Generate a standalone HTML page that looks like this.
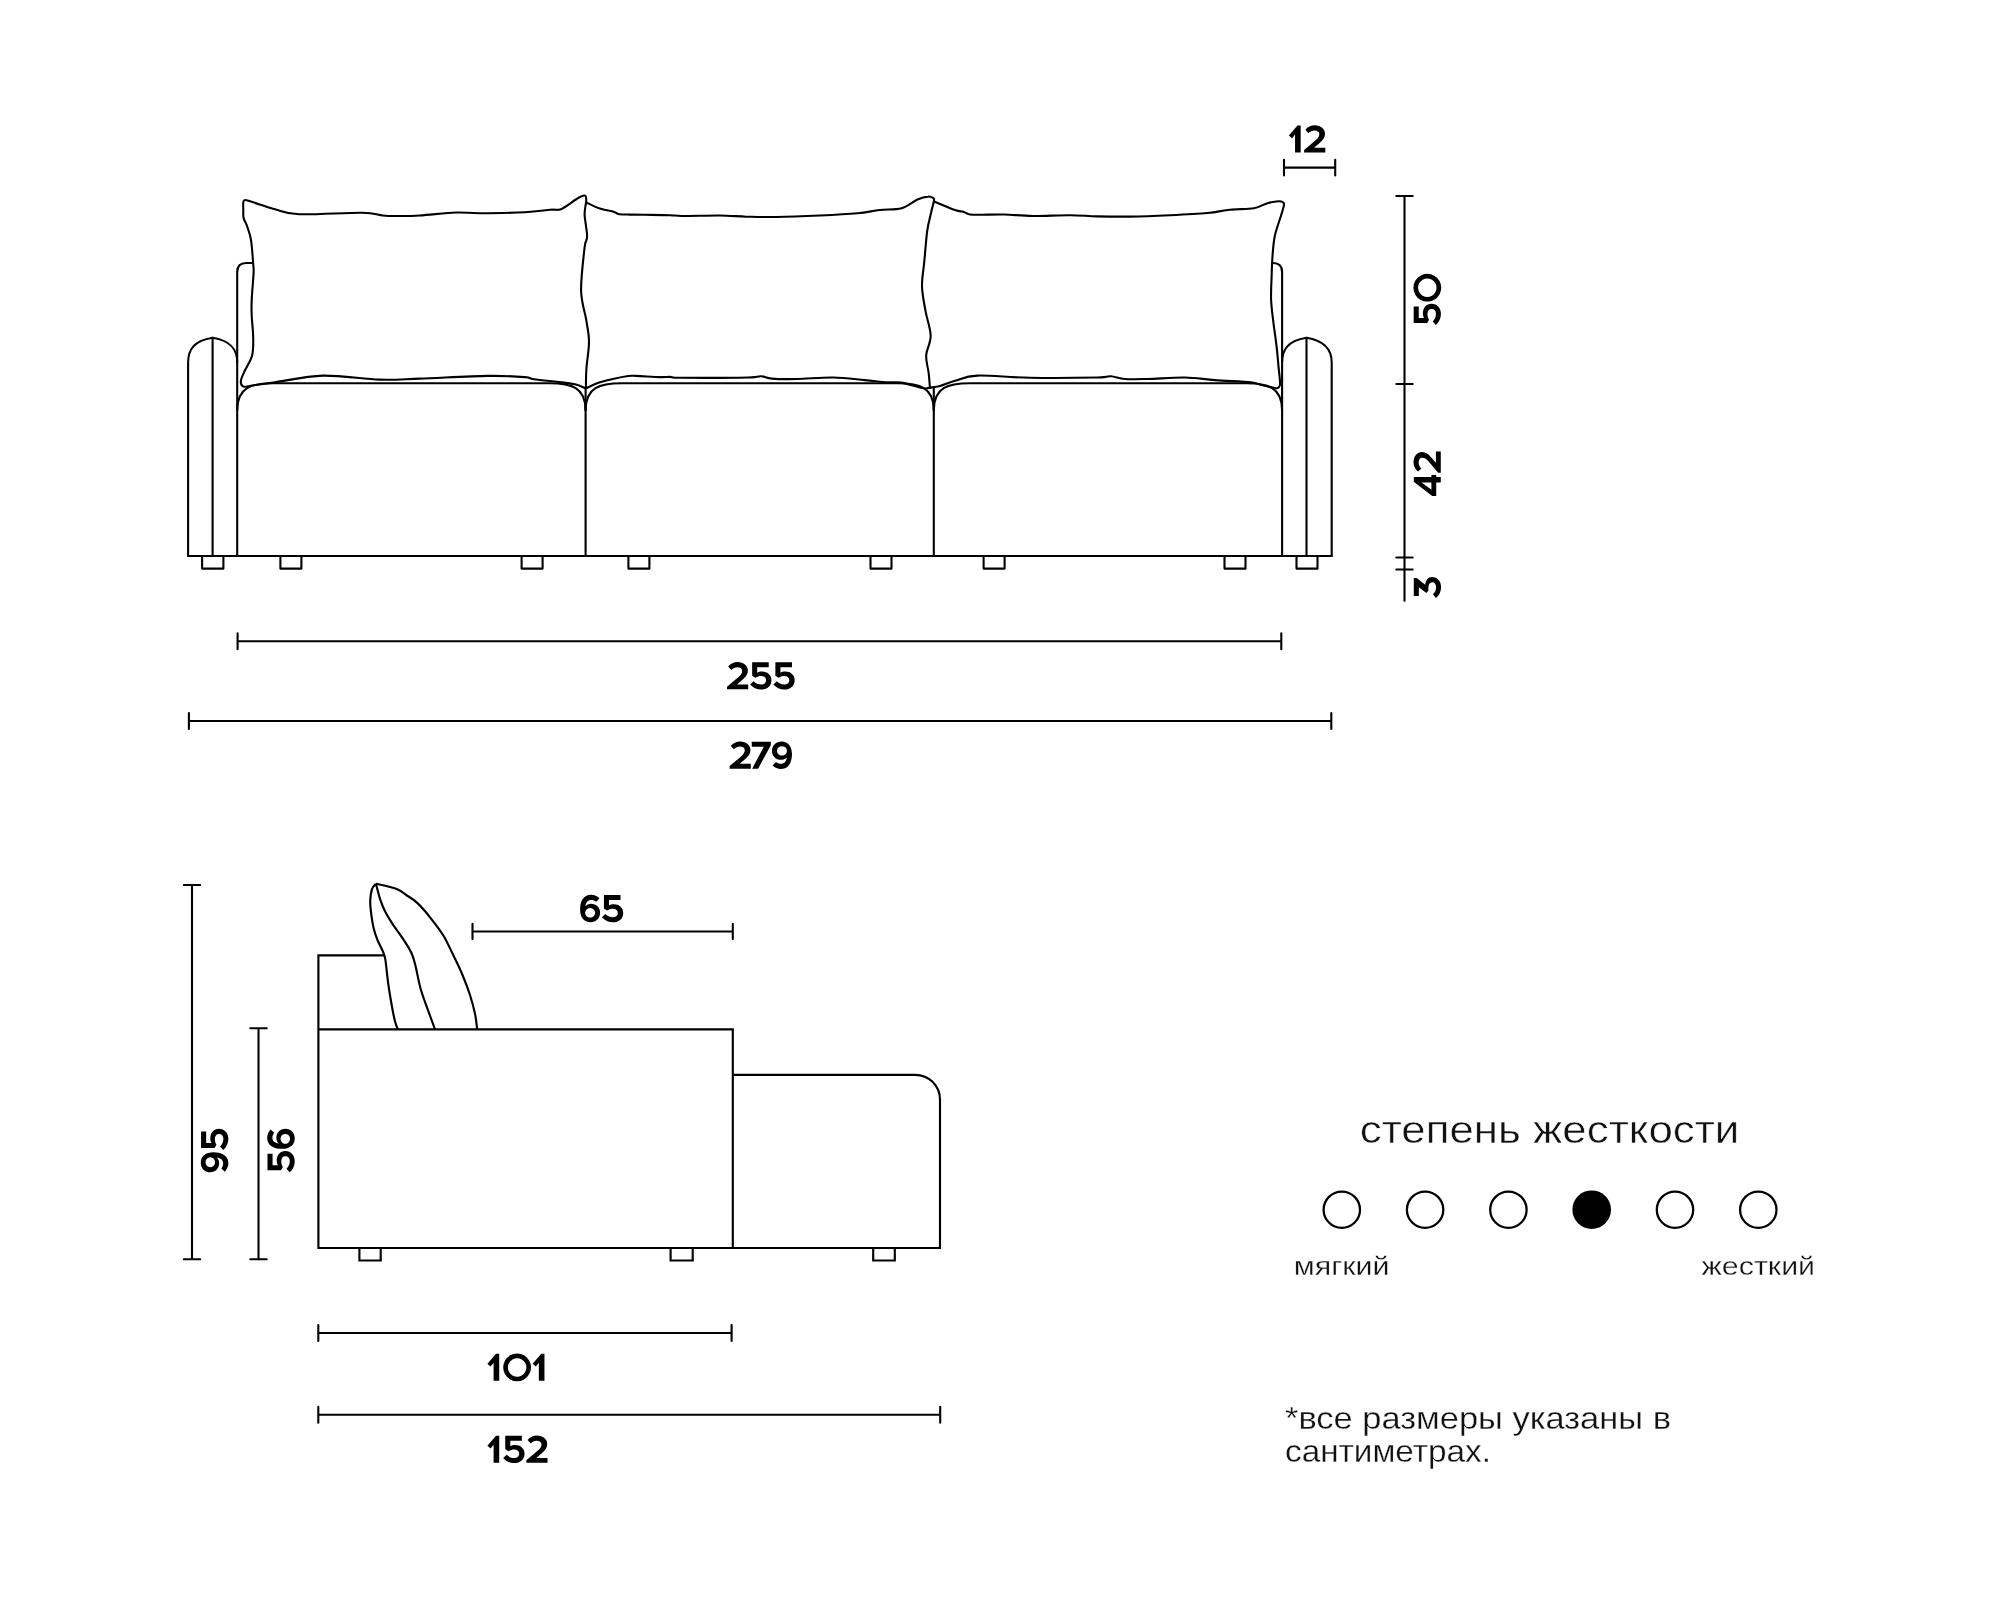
<!DOCTYPE html>
<html lang="ru"><head><meta charset="utf-8"><title>Sofa dimensions</title>
<style>
html,body{margin:0;padding:0;background:#fff;}
body{width:2000px;height:1601px;overflow:hidden;}
svg{display:block;}
text{font-family:"Liberation Sans",sans-serif;fill:#111;stroke:#fff;stroke-width:0.3px;}
</style></head><body>
<svg width="2000" height="1601" viewBox="0 0 2000 1601">
<rect width="2000" height="1601" fill="#fff"/>
<defs><path id="g1" d="M31.3,1 L42.9,1 L42.9,99 L22.5,99 L22.5,34 L11.5,47.3 L0,37.4 Z"/><path id="g2" d="M4.4,16.5 C13,6 25,0 38.5,0 C60,0 75.8,13 75.8,31 C75.8,45 68,54 55,65.4 L36.3,81.3 L76.9,81.3 L76.9,99 L0,99 L0,89.6 L41.8,54.4 C51,46 55,40 55,31.5 C55,24 48,18.7 37.5,18.7 C29,18.7 22,22 15.9,28.6 Z"/><path id="g5" d="M7.4,1 L67.6,1 L67.6,19.5 L25.7,19.5 L25.7,39 C30,36 36,34.5 43,34.5 C63,34.5 77.5,47 77.5,66 C77.5,86 62,100 40.5,100 C24,100 10,93 0,81.6 L12.5,70 C21,78 30,82 40,82 C51,82 58,76 58,66.5 C58,57 51,51 40,51 C32,51 26,53 19,57 L7.4,50 Z"/><path id="g0" d="M50.5,0 A50.5,50.5 0 1 1 50.4,0 Z M50.5,17 A33.5,33.5 0 1 0 50.6,17 Z"/><path id="g4" d="M51.5,1 L69.2,1 L69.2,65 L76,65 L76,82.5 L69.2,82.5 L69.2,99 L49.3,99 L49.3,82.5 L0,82.5 L0,68 Z M49.3,29.5 L49.3,65 L22.6,65 Z"/><path id="g3" d="M7.4,1 L72.7,1 L72.7,11.5 L48.5,42.5 C64,43.5 76.6,53 76.6,68 C76.6,87 61,100 39.8,100 C23,100 9,93 0,81 L13.9,70.5 C21,78 29,82 39.5,82 C50,82 57.5,76.5 57.5,68 C57.5,59 49,54.5 37,54 L27,54 L18.2,46.5 L39.8,19.5 L7.4,19.5 Z"/><path id="g6" d="M70.4,12.9 C62,5 52,0 39.8,0 C15,0 0,20 0,54 C0,82 14,100 37.6,100 C58,100 72.6,85.5 72.6,65.6 C72.6,47 58.5,33.3 40,33.3 C31,33.3 24,36.5 19,42 C21,28 28,18.8 40,18.8 C47,18.8 53,21 58.6,25.3 Z M36.3,48.4 A18,17.2 0 1 0 36.4,48.4 Z"/><path id="g7" d="M0,1 L69.2,1 L69.2,14 L23,99 L1.4,99 L43.8,19.8 L0,19.8 Z"/></defs>
<g fill="none" stroke="#000" stroke-width="2.1" stroke-linejoin="round" stroke-linecap="round"><path d="M188.1,556.0 L188.1,362.5 C188.1,349.5 194.1,340.8 212.6,337.8 C231.1,340.8 237.2,349.5 237.2,362.5 L237.2,556.0"/><path d="M212.6,337.8 L212.6,556.0"/><path d="M1282.1,556.0 L1282.1,362.5 C1282.1,349.5 1288.0,340.8 1306.5,337.8 C1325.0,340.8 1331.7,349.5 1331.7,362.5 L1331.7,556.0"/><path d="M1306.5,337.8 L1306.5,556.0"/><path d="M188.2,556 L1331.7,556"/><path d="M237.2,362 L237.2,272 Q237.2,263 246.2,263 L253,263"/><path d="M1282.1,362 L1282.1,272 Q1282.1,263 1273.1,263 L1272.6,263"/><path d="M237.2,410.2 C237.2,387.2 251.6,383.2 273.2,383.2 L549.6,383.2 C571.2,383.2 585.6,387.2 585.6,410.2"/><path d="M585.6,410.2 C585.6,387.2 600.0,383.2 621.6,383.2 L897.8,383.2 C919.4,383.2 933.8,387.2 933.8,410.2"/><path d="M933.8,410.2 C933.8,387.2 948.2,383.2 969.8,383.2 L1246.1,383.2 C1267.7,383.2 1282.1,387.2 1282.1,410.2"/><path d="M585.6,388.3 L585.6,556 M933.8,387.6 L933.8,556"/><path d="M585.9,388.3 C586.0,385.1 585.9,376.5 586.4,368.8 C586.9,361.1 589.0,349.9 589.0,341.9 C589.0,333.9 587.7,329.4 586.4,320.9 C585.1,312.4 581.4,303.1 581.1,290.9 C580.8,278.6 583.6,256.5 584.6,247.4 C585.6,238.3 587.1,241.7 587.1,236.2 C587.1,230.7 584.8,220.4 584.6,214.5 C584.5,208.6 586.1,204.1 586.2,201.0 C586.3,197.9 586.3,196.6 585.4,195.8 C584.5,195.1 582.6,195.9 581.0,196.5 C579.4,197.1 579.2,197.4 575.9,199.5 C572.5,201.6 565.1,207.5 560.9,209.2 C556.6,210.9 556.4,209.2 550.4,209.7 C544.4,210.2 536.7,211.6 525.0,212.2 C513.3,212.8 491.5,213.2 480.0,213.3 C468.5,213.4 466.0,212.1 456.0,212.5 C446.0,212.9 429.7,214.9 420.0,215.5 C410.3,216.1 404.0,216.0 397.8,216.0 C391.6,216.0 388.8,216.1 382.8,215.5 C376.8,214.9 375.8,212.9 361.8,212.7 C347.8,212.5 313.5,214.8 299.0,214.2 C284.5,213.6 282.5,211.1 275.0,209.2 C267.5,207.3 258.6,204.0 254.0,202.6 C249.4,201.2 249.2,200.9 247.6,200.5 C246.0,200.1 245.4,199.8 244.7,200.1 C244.0,200.3 243.5,200.3 243.3,202.0 C243.1,203.7 243.2,207.3 243.3,210.0 C243.4,212.7 242.9,215.2 243.6,218.0 C244.2,220.8 246.0,222.8 247.2,226.5 C248.4,230.2 250.0,233.8 251.0,240.0 C252.0,246.2 252.8,258.5 253.2,264.0 C253.6,269.5 253.8,267.0 253.6,273.0 C253.3,279.0 252.0,293.0 251.7,300.0 C251.4,307.0 251.4,308.8 251.7,315.0 C251.9,321.2 253.1,330.7 253.2,337.4 C253.3,344.1 253.5,349.9 252.1,355.4 C250.7,360.9 246.9,366.1 245.0,370.3 C243.1,374.5 241.2,378.1 240.9,380.8 C240.6,383.5 241.6,385.8 243.4,386.6 C245.2,387.4 246.7,386.2 252.0,385.5 C257.3,384.8 263.2,383.9 275.0,382.3 C286.8,380.7 305.4,376.1 322.9,375.6 C340.4,375.2 363.6,379.1 379.8,379.6 C396.0,380.1 402.1,379.2 420.0,378.6 C437.9,378.0 469.9,376.1 487.4,375.9 C504.9,375.6 517.1,376.5 524.9,377.1 C532.6,377.7 527.4,378.4 533.9,379.3 C540.4,380.2 556.9,381.7 563.9,382.6 C570.9,383.5 572.2,383.7 575.9,384.6 C579.6,385.6 584.2,387.7 585.9,388.3"/><path d="M586.4,202.5 C588.6,203.5 595.6,207.1 599.9,208.5 C604.2,209.9 609.3,210.5 612.0,211.2 C614.7,211.9 614.8,212.3 616.0,212.8 C617.2,213.3 617.2,213.9 619.5,214.2 C621.8,214.5 625.8,214.5 630.0,214.6 C634.2,214.7 638.1,214.7 644.8,214.8 C651.5,214.9 663.8,215.0 670.0,215.2 C676.2,215.4 673.8,215.9 682.0,216.0 C690.2,216.1 708.8,215.4 719.5,215.5 C730.2,215.6 736.9,216.4 746.4,216.7 C755.9,216.9 764.1,217.2 776.4,217.0 C788.6,216.8 806.4,216.1 819.9,215.5 C833.4,214.9 847.4,214.2 857.4,213.3 C867.4,212.4 872.4,210.8 879.8,210.0 C887.2,209.2 895.3,209.9 901.6,208.2 C907.9,206.4 913.1,201.4 917.5,199.5 C921.9,197.6 925.4,196.8 928.0,196.6 C930.6,196.3 932.0,197.3 933.0,198.0 C934.0,198.7 934.3,198.0 934.0,200.5 C933.7,203.0 932.1,207.9 931.0,213.0 C929.9,218.1 928.3,222.8 927.2,231.0 C926.1,239.2 925.1,253.2 924.2,262.4 C923.3,271.6 921.8,278.1 922.0,286.4 C922.2,294.6 924.2,303.6 925.7,311.9 C927.2,320.1 930.6,328.6 930.7,335.9 C930.8,343.1 926.5,349.2 926.2,355.4 C925.9,361.6 928.1,367.9 928.7,373.3 C929.3,378.7 929.7,385.2 929.9,387.6"/><path d="M585.9,388.3 C588.2,387.3 595.2,383.9 599.9,382.3 C604.6,380.7 609.3,379.8 614.0,378.7 C618.7,377.6 624.6,376.5 628.3,376.0 C632.0,375.5 630.7,375.7 636.0,375.9 C641.3,376.1 654.3,376.9 660.0,377.1 C665.7,377.3 666.3,376.8 670.0,376.9 C673.7,377.0 669.0,377.7 682.0,377.8 C695.0,377.9 734.8,377.8 748.0,377.5 C761.2,377.2 757.4,376.1 761.4,376.3 C765.4,376.5 765.9,378.2 771.9,378.6 C777.9,379.1 787.1,379.2 797.4,379.0 C807.6,378.8 822.2,377.3 833.4,377.5 C844.6,377.7 855.8,379.3 864.8,380.1 C873.8,380.9 881.2,381.9 887.3,382.3 C893.4,382.7 896.1,381.7 901.6,382.6 C907.1,383.5 916.1,386.6 920.0,387.6 C923.9,388.6 923.4,388.5 925.0,388.5 C926.6,388.5 929.1,387.8 929.9,387.6"/><path d="M934.7,201.7 C938.1,203.1 950.4,208.3 955.0,210.0 C959.6,211.7 960.6,211.1 962.5,211.6 C964.4,212.1 965.2,212.7 966.5,213.2 C967.8,213.7 967.4,214.2 970.0,214.5 C972.6,214.8 976.3,214.7 982.0,214.7 C987.7,214.7 995.9,214.3 1004.4,214.5 C1012.9,214.7 1021.9,215.9 1032.9,216.0 C1043.9,216.1 1059.6,215.1 1070.3,215.2 C1081.0,215.3 1087.3,216.2 1097.3,216.4 C1107.2,216.6 1117.9,216.8 1130.0,216.6 C1142.1,216.4 1157.1,215.8 1170.0,215.2 C1182.9,214.6 1197.4,213.9 1207.4,213.0 C1217.4,212.1 1222.2,210.5 1229.9,209.7 C1237.7,208.9 1247.7,209.3 1253.9,208.2 C1260.2,207.1 1263.3,204.3 1267.4,203.2 C1271.5,202.0 1276.0,201.4 1278.6,201.3 C1281.2,201.2 1282.3,201.8 1283.2,202.5 C1284.1,203.2 1284.3,203.2 1283.9,205.5 C1283.5,207.8 1282.4,211.0 1280.9,216.0 C1279.4,221.0 1276.3,229.0 1274.9,235.5 C1273.5,242.0 1273.1,247.9 1272.6,254.9 C1272.0,261.9 1271.8,269.9 1271.6,277.4 C1271.3,284.9 1270.8,292.4 1271.1,299.9 C1271.4,307.4 1272.5,314.9 1273.4,322.4 C1274.3,329.9 1275.5,337.4 1276.4,344.9 C1277.3,352.4 1278.0,361.0 1278.6,367.4 C1279.2,373.8 1280.1,380.1 1280.1,383.5 C1280.1,386.9 1279.4,386.8 1278.5,387.5 C1277.6,388.2 1278.0,388.5 1274.9,388.0 C1271.8,387.5 1263.9,385.6 1259.9,384.6 C1255.9,383.7 1258.4,383.1 1250.9,382.3 C1243.4,381.6 1225.9,380.9 1214.9,380.1 C1203.9,379.3 1196.1,377.7 1184.9,377.5 C1173.7,377.3 1157.5,378.8 1147.5,379.0 C1137.5,379.2 1131.1,379.4 1125.0,379.0 C1118.9,378.6 1115.4,376.6 1110.8,376.3 C1106.2,376.1 1110.8,377.2 1097.3,377.5 C1083.8,377.8 1049.9,378.1 1029.9,377.8 C1009.9,377.5 989.9,375.1 977.4,375.6 C964.9,376.1 961.2,379.1 955.0,380.8 C948.8,382.5 944.2,384.9 940.0,386.0 C935.8,387.1 931.6,387.3 929.9,387.6"/><path d="M202.1,556 L202.1,568.6 L223.4,568.6 L223.4,556"/><path d="M280.4,556 L280.4,568.6 L301.4,568.6 L301.4,556"/><path d="M521.6,556 L521.6,568.6 L542.6,568.6 L542.6,556"/><path d="M628.4,556 L628.4,568.6 L649.4,568.6 L649.4,556"/><path d="M870.5,556 L870.5,568.6 L891.5,568.6 L891.5,556"/><path d="M983.6,556 L983.6,568.6 L1004.6,568.6 L1004.6,556"/><path d="M1224.5,556 L1224.5,568.6 L1245.5,568.6 L1245.5,556"/><path d="M1296.5,556 L1296.5,568.6 L1317.5,568.6 L1317.5,556"/></g>
<g fill="none" stroke="#000" stroke-width="2.15" stroke-linejoin="miter" stroke-linecap="butt"><path d="M383.8,955.3 L318.4,955.3 L318.4,1248 L940,1248 L940,1099.5 A24.7,24.7 0 0 0 915.3,1074.8 L732.8,1074.8"/><path d="M318.4,1029.3 L732.8,1029.3 L732.8,1248"/><path d="M375.9,883.8 C375.2,884.7 372.8,886.5 371.9,889.4 C371.0,892.3 370.4,897.2 370.2,901.2 C370.1,905.3 370.7,909.2 371.2,913.8 C371.8,918.3 372.7,924.4 373.8,928.8 C374.8,933.1 375.9,936.1 377.5,940.0 C379.1,943.9 381.8,948.8 383.1,951.9 C384.4,955.0 384.6,955.3 385.2,958.8 C385.9,962.2 386.3,967.7 386.9,972.5 C387.5,977.3 387.9,981.9 388.8,987.5 C389.6,993.1 390.9,1000.6 391.9,1006.2 C392.9,1011.9 394.0,1017.4 395.0,1021.2 C396.0,1025.1 397.3,1028.0 397.8,1029.4"/><path d="M375.9,883.8 C376.6,886.2 378.5,894.2 380.0,898.8 C381.5,903.3 382.9,907.1 385.0,911.2 C387.1,915.4 389.4,919.0 392.5,923.8 C395.6,928.5 400.6,935.2 403.8,940.0 C406.9,944.8 409.4,948.5 411.2,952.5 C413.1,956.5 413.4,957.7 415.0,963.8 C416.6,969.8 418.5,981.2 420.6,988.8 C422.7,996.2 425.1,1002.0 427.5,1008.8 C429.9,1015.5 433.8,1026.0 435.0,1029.4"/><path d="M375.9,883.8 C379.3,884.6 391.2,886.9 396.2,888.8 C401.3,890.6 402.7,892.6 406.2,895.0 C409.8,897.4 413.3,899.1 417.5,903.1 C421.7,907.1 426.9,913.2 431.2,918.8 C435.6,924.3 440.0,930.0 443.8,936.2 C447.5,942.5 450.6,949.8 453.8,956.2 C456.9,962.7 459.8,968.5 462.5,975.0 C465.2,981.5 467.9,988.5 470.0,995.0 C472.1,1001.5 473.8,1008.0 475.0,1013.8 C476.2,1019.5 476.9,1026.8 477.2,1029.4"/><path d="M359.4,1248 L359.4,1260.5 L380.7,1260.5 L380.7,1248"/><path d="M670.6,1248 L670.6,1260.5 L692.7,1260.5 L692.7,1248"/><path d="M873.2,1248 L873.2,1260.5 L894.8,1260.5 L894.8,1248"/></g>
<g fill="none" stroke="#000" stroke-width="2.1" stroke-linecap="round"><path d="M237.6,641.3 L1281.3,641.3 M237.6,633.4 L237.6,649.2 M1281.3,633.4 L1281.3,649.2"/><path d="M188.9,721.0 L1331.3,721.0 M188.9,713.1 L188.9,728.9 M1331.3,713.1 L1331.3,728.9"/><path d="M1284.0,167.6 L1335.2,167.6 M1284.0,159.7 L1284.0,175.5 M1335.2,159.7 L1335.2,175.5"/><path d="M472.5,931.5 L732.8,931.5 M472.5,923.9 L472.5,939.1 M732.8,923.9 L732.8,939.1"/><path d="M318.3,1333.0 L731.6,1333.0 M318.3,1325.1 L318.3,1340.9 M731.6,1325.1 L731.6,1340.9"/><path d="M318.3,1414.8 L940.2,1414.8 M318.3,1406.9 L318.3,1422.7 M940.2,1406.9 L940.2,1422.7"/><path d="M1404.5,196 L1404.5,600.7 M1396.3,196 L1412.7,196 M1396.3,384 L1412.7,384 M1396.3,557.5 L1412.7,557.5 M1396.3,569.5 L1412.7,569.5"/><path d="M192,885 L192,1259.2 M183.8,885 L200.2,885 M183.8,1259.2 L200.2,1259.2"/><path d="M258.5,1028.2 L258.5,1259.2 M250.3,1028.2 L266.7,1028.2 M250.3,1259.2 L266.7,1259.2"/></g>
<g fill="#000" fill-rule="evenodd"><g transform="translate(727.00,662.00) rotate(0) scale(0.2755)"><use href="#g2" transform="translate(0.0,0)"/><use href="#g5" transform="translate(83.9,0)"/><use href="#g5" transform="translate(168.2,0)"/></g><g transform="translate(729.60,741.40) rotate(0) scale(0.2755)"><use href="#g2" transform="translate(0.0,0)"/><use href="#g7" transform="translate(80.4,0)"/><use href="#g6" transform="translate(153.8,0) rotate(180 36.3 50)"/></g><g transform="translate(1288.85,125.25) rotate(0) scale(0.2755)"><use href="#g1" transform="translate(0.0,0)"/><use href="#g2" transform="translate(55.5,0)"/></g><g transform="translate(580.10,894.70) rotate(0) scale(0.2755)"><use href="#g6" transform="translate(0.0,0)"/><use href="#g5" transform="translate(79.1,0)"/></g><g transform="translate(487.40,1353.50) rotate(0) scale(0.2755)"><use href="#g1" transform="translate(0.0,0)"/><use href="#g0" transform="translate(57.4,0)"/><use href="#g1" transform="translate(164.2,0)"/></g><g transform="translate(487.40,1435.50) rotate(0) scale(0.2755)"><use href="#g1" transform="translate(0.0,0)"/><use href="#g5" transform="translate(57.4,0)"/><use href="#g2" transform="translate(141.4,0)"/></g><g transform="translate(1413.40,325.00) rotate(-90) scale(0.2755)"><use href="#g5" transform="translate(0.0,0)"/><use href="#g0" transform="translate(84.9,0)"/></g><g transform="translate(1413.50,496.00) rotate(-90) scale(0.2755)"><use href="#g4" transform="translate(0.0,0)"/><use href="#g2" transform="translate(84.2,0)"/></g><g transform="translate(1413.50,598.10) rotate(-90) scale(0.2755)"><use href="#g3" transform="translate(0.0,0)"/></g><g transform="translate(200.80,1172.30) rotate(-90) scale(0.2755)"><use href="#g6" transform="translate(0.0,0) rotate(180 36.3 50)"/><use href="#g5" transform="translate(80.9,0)"/></g><g transform="translate(267.20,1172.30) rotate(-90) scale(0.2755)"><use href="#g5" transform="translate(0.0,0)"/><use href="#g6" transform="translate(85.1,0)"/></g></g>
<circle cx="1341.8" cy="1209.7" r="18.2" fill="none" stroke="#000" stroke-width="2.25"/><circle cx="1425.1" cy="1209.7" r="18.2" fill="none" stroke="#000" stroke-width="2.25"/><circle cx="1508.4" cy="1209.7" r="18.2" fill="none" stroke="#000" stroke-width="2.25"/><circle cx="1591.7" cy="1209.7" r="19.3" fill="#000"/><circle cx="1675.0" cy="1209.7" r="18.2" fill="none" stroke="#000" stroke-width="2.25"/><circle cx="1758.3" cy="1209.7" r="18.2" fill="none" stroke="#000" stroke-width="2.25"/>
<g style="filter:grayscale(1)">
<text x="1359.8" y="1142.9" font-size="38.2" style="stroke-width:0.5px" textLength="379.5" lengthAdjust="spacingAndGlyphs">степень жесткости</text>
<text x="1293.8" y="1274.8" font-size="26.3" textLength="95.8" lengthAdjust="spacingAndGlyphs">мягкий</text>
<text x="1701.5" y="1274.8" font-size="26.3" textLength="113.6" lengthAdjust="spacingAndGlyphs">жесткий</text>
<text x="1285" y="1428.8" font-size="31.4" textLength="386" lengthAdjust="spacingAndGlyphs">*все размеры указаны в</text>
<text x="1285" y="1462.4" font-size="31.4" textLength="206" lengthAdjust="spacingAndGlyphs">сантиметрах.</text>
</g>
</svg>
</body></html>
